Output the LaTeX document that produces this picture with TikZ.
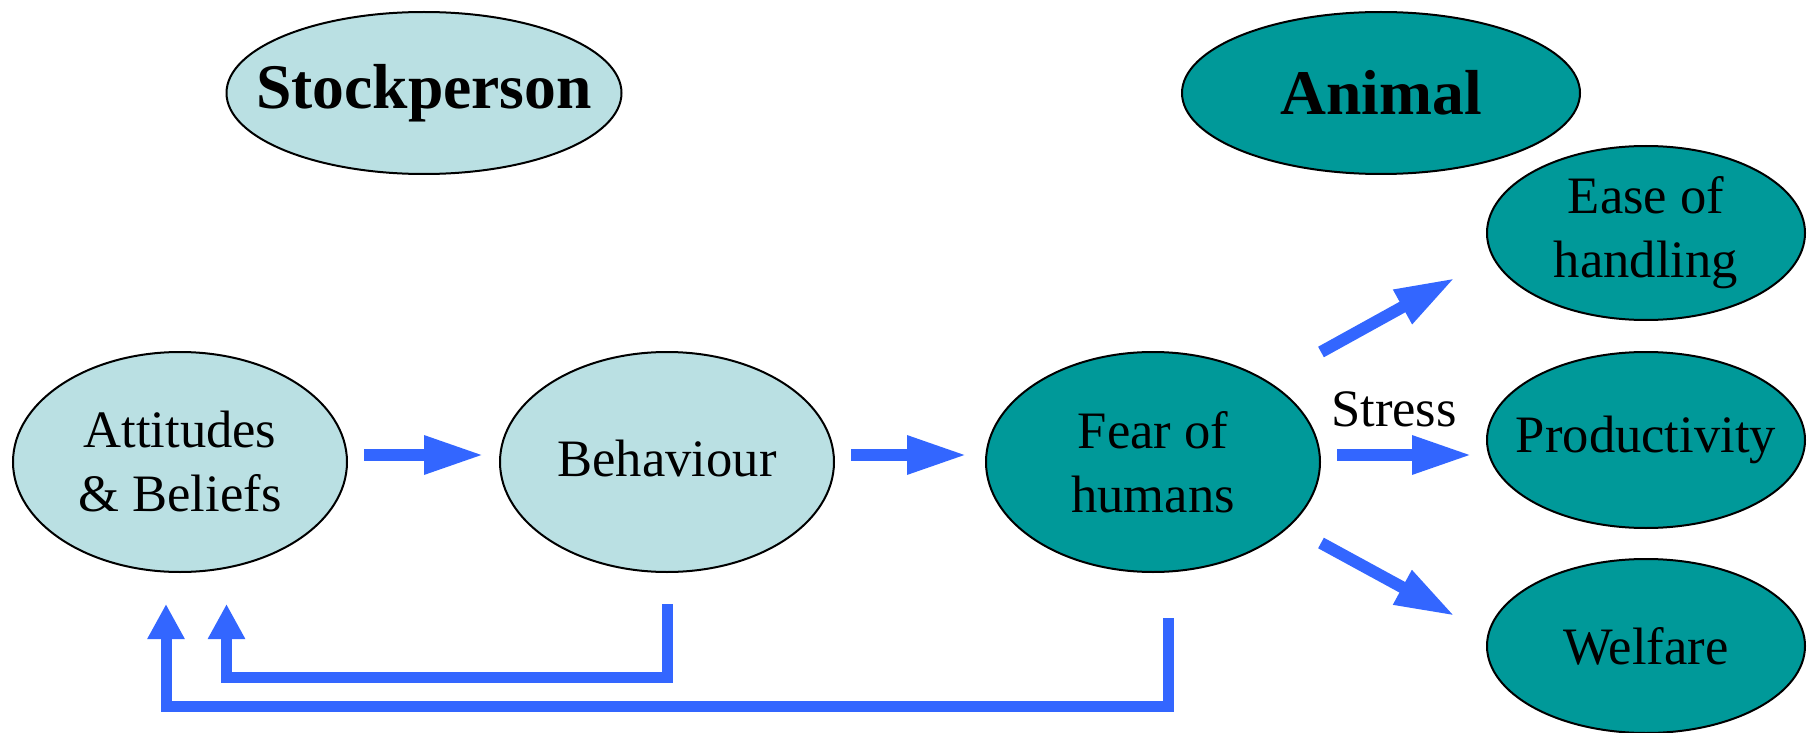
\documentclass[tikz,border=0pt]{standalone}
\usepackage{fontspec}
\setmainfont{Liberation Serif}
\usetikzlibrary{shapes.geometric,arrows.meta,calc}
\definecolor{lightfill}{RGB}{186,224,227}
\definecolor{tealfill}{RGB}{0,153,153}
\definecolor{arrowblue}{RGB}{51,102,255}
\tikzset{
  ell/.style={ellipse, draw=black, line width=1pt, inner sep=0pt, align=center,
    font=\fontsize{26.3pt}{32pt}\selectfont},
  stock/.style={ell, fill=lightfill},
  anim/.style={ell, fill=tealfill},
  head/.style={font=\bfseries\fontsize{31.8pt}{36pt}\selectfont},
  barrow/.style={draw=arrowblue, line width=6pt, -{Triangle[length=30pt,width=18pt]}},
  fbarrow/.style={draw=arrowblue, line width=5.5pt, line join=miter, -{Triangle[length=17.5pt,width=17.5pt]}},
}
\begin{document}
\begin{tikzpicture}[x=0.5pt,y=-0.5pt]
\useasboundingbox (0,0) rectangle (1811,733);
% header ellipses
\node[stock, head, minimum width=197.5pt, minimum height=81pt] (sp) at (424,93) {\makebox[0pt]{\raisebox{-1.5pt}{Stockperson}}};
\node[anim, head, minimum width=199pt, minimum height=81pt] (an) at (1381,93) {\makebox[0pt]{Animal}};
% main row
\node[stock, minimum width=167pt, minimum height=110pt] (att) at (180,462) {Attitudes\\\& Beliefs};
\node[stock, minimum width=167pt, minimum height=110pt] (beh) at (667,462) {\makebox[0pt]{\raisebox{3.5pt}{Behaviour}}};
\node[anim, minimum width=167pt, minimum height=110pt] (fear) at (1153,462) {Fear of\\humans};
% outcomes
\node[anim, minimum width=159pt, minimum height=87pt] (ease) at (1646,233) {Ease of\\handling};
\node[anim, minimum width=159pt, minimum height=88pt] (prod) at (1646,440) {\makebox[0pt]{Productivity}};
\node[anim, minimum width=159pt, minimum height=87pt] (welf) at (1646,646) {\makebox[0pt]{Welfare}};
\node[font=\fontsize{26.3pt}{32pt}\selectfont, inner sep=0pt] (stress) at (1394,409) {Stress};
% arrows
\draw[barrow] ([xshift=8pt,yshift=3.5pt]att.east) -- ([xshift=-7.5pt,yshift=3.5pt]beh.west);
\draw[barrow] ([xshift=8pt,yshift=3.5pt]beh.east) -- ([xshift=-9pt,yshift=3.5pt]fear.west);
\draw[barrow] ([xshift=8pt,yshift=3.5pt]fear.east) -- ([xshift=-7pt,yshift=-7.5pt]prod.west);
\draw[barrow] ($(fear)+(168,-110)$) -- ($(ease)+(-191,45)$);
\draw[barrow] ($(fear)+(168,81)$) -- ($(welf)+(-191,-30)$);
% feedback
\draw[fbarrow] ($(beh.south)+(0,31)$) -- ++(0,73) -| ($(att.south)+(46.5,31)$);
\draw[fbarrow] ($(fear.south)+(15,45)$) -- ++(0,88) -| ($(att.south)+(-14,31)$);
\end{tikzpicture}
\end{document}
